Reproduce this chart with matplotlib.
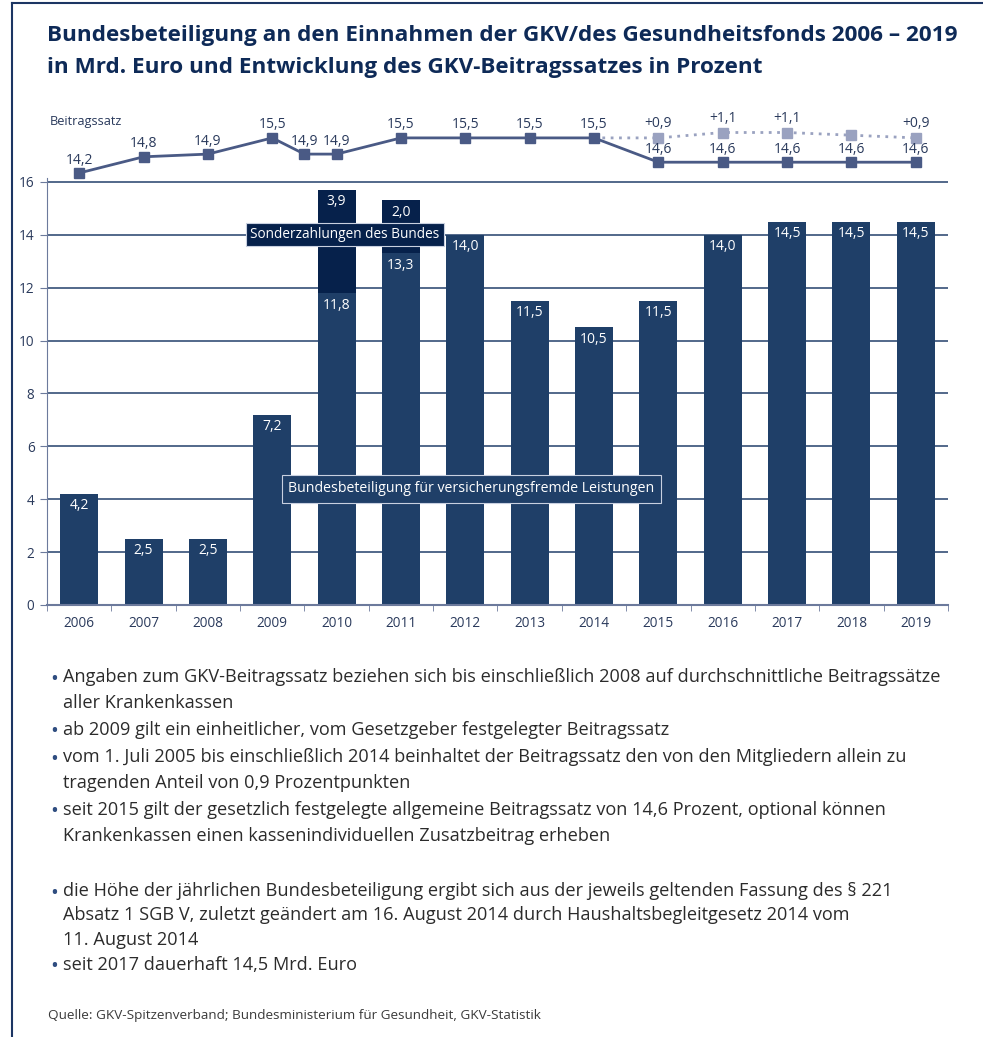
import numpy as np
import matplotlib.pyplot as plt
from matplotlib.lines import Line2D

plt.rcParams['font.family'] = ['Open Sans', 'DejaVu Sans']

# --- data ---------------------------------------------------------------
years = [2006, 2007, 2008, 2009, 2010, 2011, 2012, 2013, 2014, 2015, 2016, 2017, 2018, 2019]
bund = [4.2, 2.5, 2.5, 7.2, 11.8, 13.3, 14.0, 11.5, 10.5, 11.5, 14.0, 14.5, 14.5, 14.5]
sonder = [0, 0, 0, 0, 3.9, 2.0, 0, 0, 0, 0, 0, 0, 0, 0]

# Beitragssatz (2009 changed mid-year: 15,5 -> 14,9 from July)
rate_years = [2006, 2007, 2008, 2009, 2009.5, 2010, 2011, 2012, 2013, 2014,
              2015, 2016, 2017, 2018, 2019]
rate = [14.2, 14.8, 14.9, 15.5, 14.9, 14.9, 15.5, 15.5, 15.5, 15.5,
        14.6, 14.6, 14.6, 14.6, 14.6]
zusatz_years = [2015, 2016, 2017, 2018, 2019]
zusatz = [0.9, 1.1, 1.1, 1.0, 0.9]
zusatz_labels = ['+0,9', '+1,1', '+1,1', '', '+0,9']

title = ['Bundesbeteiligung an den Einnahmen der GKV/des Gesundheitsfonds 2006 \u2013 2019',
         'in Mrd. Euro und Entwicklung des GKV-Beitragssatzes in Prozent']

notes = [
    ['Angaben zum GKV-Beitragssatz beziehen sich bis einschließlich 2008 auf durchschnittliche Beitragssätze',
     'aller Krankenkassen'],
    ['ab 2009 gilt ein einheitlicher, vom Gesetzgeber festgelegter Beitragssatz'],
    ['vom 1. Juli 2005 bis einschließlich 2014 beinhaltet der Beitragssatz den von den Mitgliedern allein zu',
     'tragenden Anteil von 0,9 Prozentpunkten'],
    ['seit 2015 gilt der gesetzlich festgelegte allgemeine Beitragssatz von 14,6 Prozent, optional können',
     'Krankenkassen einen kassenindividuellen Zusatzbeitrag erheben'],
]
notes2 = [
    ['die Höhe der jährlichen Bundesbeteiligung ergibt sich aus der jeweils geltenden Fassung des § 221',
     'Absatz 1 SGB V, zuletzt geändert am 16. August 2014 durch Haushaltsbegleitgesetz 2014 vom',
     '11. August 2014'],
    ['seit 2017 dauerhaft 14,5 Mrd. Euro'],
]
source = 'Quelle: GKV-Spitzenverband; Bundesministerium für Gesundheit, GKV-Statistik'

# --- colours ------------------------------------------------------------
BAR = '#1f3f68'
SONDER = '#06214b'
NAVY = '#0e2a57'
TXT = '#2a3a5c'
LINE = '#4a5a85'
LIGHT = '#9aa2c0'
GRID = '#23406b'


def fmt(v):
    return ('%.1f' % v).replace('.', ',')


W, H = 983, 1037
fig = plt.figure(figsize=(W / 100, H / 100), dpi=100)


def px_axes(left, top, right, bottom):
    return fig.add_axes([left / W, 1 - bottom / H, (right - left) / W, (bottom - top) / H])


# frame (top and left edge)
fig.add_artist(Line2D([12 / W, 1], [1 - 3 / H, 1 - 3 / H], color='#1c3563', lw=1.5))
fig.add_artist(Line2D([12 / W, 12 / W], [0, 1 - 3 / H], color='#1c3563', lw=1.5))

# title
for i, t in enumerate(title):
    fig.text(47 / W, 1 - (36 + 32 * i) / H, t, fontsize=16.2, fontweight='bold',
             color=NAVY, va='center', ha='left')

# --- bar chart ----------------------------------------------------------
ax = px_axes(47, 178, 948, 605)
x = np.arange(len(years))
ax.set_axisbelow(True)
ax.yaxis.grid(True, color=GRID, lw=1.1)
ax.bar(x, bund, width=0.59, color=BAR, zorder=2)
ax.bar(x, sonder, width=0.59, bottom=bund, color=SONDER, zorder=2)

for xi, b, s in zip(x, bund, sonder):
    ax.annotate(fmt(b), (xi, b), xytext=(0, -12), textcoords='offset pixels',
                ha='center', va='center', color='white', fontsize=10, zorder=3)
    if s:
        ax.annotate(fmt(s), (xi, b + s), xytext=(0, -12), textcoords='offset pixels',
                    ha='center', va='center', color='white', fontsize=10, zorder=3)

ax.text(4.13, 14.0, 'Sonderzahlungen des Bundes', ha='center', va='center', color='white',
        fontsize=9.8, zorder=4,
        bbox=dict(boxstyle='square,pad=0.3', fc=SONDER, ec='#c8d0e0', lw=0.8))
ax.text(6.09, 4.4, 'Bundesbeteiligung für versicherungsfremde Leistungen', ha='center',
        va='center', color='white', fontsize=10.2, zorder=4,
        bbox=dict(boxstyle='square,pad=0.45', fc=BAR, ec='#c8d0e0', lw=0.8))

ax.set_xlim(-0.5, 13.5)
ax.set_ylim(0, 16.15)
ax.set_yticks(np.arange(0, 17, 2))
ax.set_xticks(x)
ax.set_xticklabels([str(y) for y in years])
ax.set_xticks(np.arange(-0.5, 14, 1), minor=True)
ax.tick_params(axis='x', which='major', length=0, pad=8, labelsize=9.8, labelcolor=TXT)
ax.tick_params(axis='x', which='minor', length=4, color='#6c7a9c', direction='out')
ax.tick_params(axis='y', length=5, color='#6c7a9c', labelsize=9.8, labelcolor=TXT, pad=4)
for side in ['top', 'right']:
    ax.spines[side].set_visible(False)
ax.spines['left'].set_color('#6c7a9c')
ax.spines['bottom'].set_color('#6c7a9c')
ax.spines['bottom'].set_linewidth(1.5)

# --- Beitragssatz line --------------------------------------------------
lx = px_axes(47, 110, 948, 178)
lx.set_xlim(-0.5, 13.5)
lx.set_ylim(14.2 - (178 - 173) / 27, 14.2 + (173 - 110) / 27)
lx.axis('off')

rx = [y - years[0] for y in rate_years]
zx = [y - years[0] for y in zusatz_years]
ztot = [rate[rate_years.index(y)] + z for y, z in zip(zusatz_years, zusatz)]
i14 = rate_years.index(2014)
lx.plot([rx[i14]] + zx, [rate[i14]] + ztot, color=LIGHT, lw=2, ls=(0, (1, 2)), zorder=2)
lx.plot(zx, ztot, ls='none', marker='s', ms=7, color=LIGHT, zorder=3)
lx.plot(rx, rate, color=LINE, lw=2, marker='s', ms=7, zorder=4, clip_on=False)

for xi, v in zip(rx, rate):
    lx.annotate(fmt(v), (xi, v), xytext=(0, 13), textcoords='offset pixels',
                ha='center', va='center', color=TXT, fontsize=10)
for xi, v, lab in zip(zx, ztot, zusatz_labels):
    if lab:
        lx.annotate(lab, (xi, v), xytext=(0, 14), textcoords='offset pixels',
                    ha='center', va='center', color=TXT, fontsize=10)

fig.text(50 / W, 1 - 122 / H, 'Beitragssatz', fontsize=9.2, color=TXT, va='center', ha='left')

# --- notes --------------------------------------------------------------
def write_notes(items, y0, step=25.5, gap=0.0):
    y = y0
    for item in items:
        fig.text(50 / W, 1 - (y + 2) / H, '\u2022', fontsize=15, color='#2f4d80', va='center', ha='left')
        for line in item:
            fig.text(63 / W, 1 - y / H, line, fontsize=13.1, color='#2b2b2b', va='center', ha='left')
            y += step
        y += gap


write_notes(notes, 677, step=26, gap=1)
write_notes(notes2, 891, step=24.5)

fig.text(48 / W, 1 - 1016 / H, source, fontsize=9.7, color='#3a3a3a', va='center', ha='left')

fig.savefig('out.png', dpi=100)
